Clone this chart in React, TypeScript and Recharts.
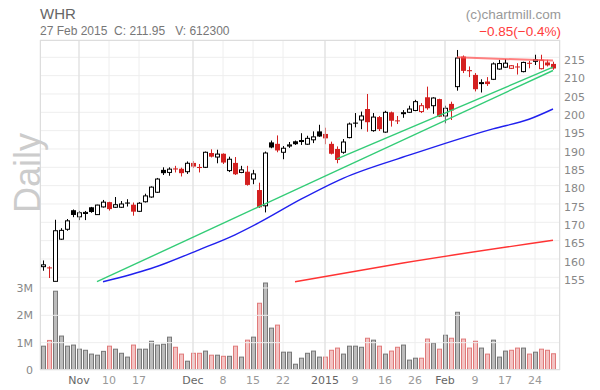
import React from 'react';
import { ComposedChart, Bar, Line, XAxis, YAxis, CartesianGrid, ReferenceLine } from 'recharts';

const dates = [
  '2014-10-24', '2014-10-27', '2014-10-28', '2014-10-29', '2014-10-30', '2014-10-31',
  '2014-11-03', '2014-11-04', '2014-11-05', '2014-11-06', '2014-11-07',
  '2014-11-10', '2014-11-11', '2014-11-12', '2014-11-13', '2014-11-14',
  '2014-11-17', '2014-11-18', '2014-11-19', '2014-11-20', '2014-11-21',
  '2014-11-24', '2014-11-25', '2014-11-26', '2014-11-28',
  '2014-12-01', '2014-12-02', '2014-12-03', '2014-12-04', '2014-12-05',
  '2014-12-08', '2014-12-09', '2014-12-10', '2014-12-11', '2014-12-12',
  '2014-12-15', '2014-12-16', '2014-12-17', '2014-12-18', '2014-12-19',
  '2014-12-22', '2014-12-23', '2014-12-24', '2014-12-26',
  '2014-12-29', '2014-12-30', '2014-12-31',
  '2015-01-02', '2015-01-05', '2015-01-06', '2015-01-07', '2015-01-08', '2015-01-09',
  '2015-01-12', '2015-01-13', '2015-01-14', '2015-01-15', '2015-01-16',
  '2015-01-20', '2015-01-21', '2015-01-22', '2015-01-23',
  '2015-01-26', '2015-01-27', '2015-01-28', '2015-01-29', '2015-01-30',
  '2015-02-02', '2015-02-03', '2015-02-04', '2015-02-05', '2015-02-06',
  '2015-02-09', '2015-02-10', '2015-02-11', '2015-02-12', '2015-02-13',
  '2015-02-17', '2015-02-18', '2015-02-19', '2015-02-20',
  '2015-02-23', '2015-02-24', '2015-02-25', '2015-02-26', '2015-02-27',
];

const opens = [
  157.9, 157.7, 153.9, 165.4, 168.1, 173.3, 171.5, 172.4, 174.1, 172.1,
  174.2, 175.5, 174.1, 174.1, 175.4, 174.8, 173.0, 175.6, 176.9, 178.2,
  184.3, 183.6, 184.7, 184.6, 183.8, 186.2, 185.1, 185.0, 188.9, 187.8,
  188.7, 184.1, 186.2, 183.6, 183.8, 181.8, 178.8, 174.5, 191.8, 191.4,
  189.1, 190.8, 192.1, 192.1, 191.3, 192.5, 194.8, 194.1, 191.4, 190.0,
  189.1, 193.1, 197.2, 197.9, 200.9, 195.0, 198.7, 194.6, 200.0, 197.8,
  199.7, 200.0, 200.5, 200.2, 204.1, 201.8, 203.6, 199.0, 202.3, 207.0,
  215.2, 211.5, 210.2, 207.9, 208.4, 209.0, 211.8, 212.3, 212.0, 212.5,
  211.1, 213.5, 213.9, 211.9, 213.6, 213.2,
];
const highs = [
  159.6, 158.0, 170.7, 168.4, 170.9, 173.5, 173.1, 173.1, 174.2, 174.8,
  176.1, 175.6, 176.9, 175.8, 176.3, 175.4, 175.5, 177.8, 179.8, 182.1,
  185.0, 185.0, 185.4, 184.9, 186.6, 186.7, 185.9, 189.3, 189.9, 189.8,
  188.8, 187.9, 187.8, 185.4, 185.4, 184.3, 180.8, 189.3, 192.3, 193.7,
  190.8, 191.9, 192.3, 194.3, 193.6, 194.8, 196.6, 195.8, 192.0, 190.7,
  192.7, 197.2, 199.8, 200.2, 205.0, 199.8, 199.0, 200.4, 200.2, 199.0,
  200.6, 201.8, 203.4, 202.5, 207.0, 204.1, 203.7, 201.8, 202.9, 217.0,
  215.5, 212.5, 210.7, 209.0, 209.6, 213.6, 214.3, 214.5, 212.9, 213.4,
  213.8, 214.0, 215.7, 215.7, 214.3, 213.8,
];
const lows = [
  156.8, 154.8, 153.9, 165.2, 167.7, 171.4, 170.6, 170.6, 172.6, 172.0,
  174.0, 173.2, 173.9, 173.9, 174.3, 171.8, 172.8, 175.4, 176.7, 178.0,
  182.9, 182.7, 183.6, 182.5, 183.2, 184.8, 183.6, 184.8, 187.7, 186.1,
  185.9, 183.7, 182.9, 183.4, 180.0, 180.4, 173.9, 172.7, 190.2, 189.1,
  187.2, 190.3, 191.1, 191.1, 191.1, 191.6, 193.3, 191.3, 188.5, 186.1,
  188.7, 192.9, 195.9, 195.4, 194.7, 194.7, 194.9, 194.4, 196.1, 196.8,
  198.5, 199.8, 200.3, 199.8, 200.7, 199.6, 198.7, 197.0, 197.9, 205.9,
  210.7, 209.6, 205.7, 205.4, 207.2, 208.8, 211.6, 212.1, 211.8, 210.3,
  210.9, 212.0, 212.9, 211.7, 212.5, 211.6,
];
const closes = [
  158.4, 157.5, 167.7, 167.8, 170.4, 172.0, 172.6, 172.7, 172.8, 174.7,
  175.5, 173.6, 174.8, 175.0, 175.1, 172.9, 175.2, 177.2, 179.6, 181.8,
  183.4, 184.5, 184.4, 183.4, 186.1, 185.2, 184.8, 189.1, 187.9, 188.6,
  186.3, 187.2, 183.1, 184.3, 180.2, 183.2, 174.1, 188.9, 190.4, 189.6,
  190.2, 191.1, 191.3, 192.3, 192.9, 193.3, 193.4, 192.9, 188.7, 187.0,
  191.9, 196.8, 196.9, 199.0, 197.3, 198.7, 195.4, 200.0, 197.7, 197.6,
  199.9, 200.9, 202.9, 201.8, 201.1, 203.9, 198.8, 201.1, 200.5, 214.8,
  211.3, 211.2, 206.3, 208.1, 207.7, 213.2, 213.3, 213.4, 212.7, 212.3,
  213.6, 213.4, 214.3, 214.2, 212.8, 211.95,
];
const volumesM = [
  0.89, 1.10, 2.90, 1.26, 0.89, 0.93, 0.78, 0.74, 0.60, 0.56,
  0.70, 0.89, 0.78, 0.63, 0.49, 0.93, 0.78, 0.78, 1.07, 0.93,
  0.96, 1.22, 0.85, 0.60, 0.34, 0.63, 0.63, 0.71, 0.56, 0.56,
  0.52, 0.52, 0.89, 0.49, 1.11, 1.22, 2.46, 3.20, 1.55, 1.66,
  0.67, 0.67, 0.23, 0.45, 0.63, 0.71, 0.49, 0.49, 0.74, 0.82,
  0.60, 0.89, 0.89, 0.85, 1.18, 1.11, 0.89, 0.60, 0.71, 0.85,
  0.93, 0.38, 0.45, 0.45, 1.15, 1.00, 0.78, 1.29, 1.18, 2.13,
  1.15, 0.82, 1.07, 0.82, 0.60, 1.11, 0.49, 0.71, 0.74, 0.82,
  0.82, 0.60, 0.67, 0.78, 0.74, 0.6123,
];

// sparse line readings: [day index] -> price
const trendLowIdx = [9, 85];
const trendLowVal = [153.8, 211.4];
const trendHighIdx = [49, 85];
const trendHighVal = [187.3, 212.3];
const resistIdx = [69, 85];
const resistVal = [215.0, 214.1];
const ma50Idx = [10, 18, 26, 32, 36, 43, 50, 61, 75, 81, 85];
const ma50Val = [153.8, 157.4, 162.5, 166.6, 169.9, 176.3, 182.0, 188.3, 195.5, 198.1, 200.9];
const ma200Idx = [42, 60, 85];
const ma200Val = [153.8, 158.9, 165.1];

const tickDates = [
  '2014-11-03', '2014-11-10', '2014-11-17', '2014-12-01', '2014-12-08', '2014-12-15', '2014-12-22',
  '2015-01-02', '2015-01-09', '2015-01-16', '2015-01-26', '2015-02-02', '2015-02-09', '2015-02-17', '2015-02-24',
];
const tickLabels = ['Nov', '10', '17', 'Dec', '8', '15', '22', '2015', '9', '16', '26', 'Feb', '9', '17', '24'];
const monthLabels = ['Nov', 'Dec', '2015', 'Feb'];
const priceTicks = [155, 160, 165, 170, 175, 180, 185, 190, 195, 200, 205, 210, 215];
const volTicks = [0, 1e6, 2e6, 3e6];
const volGrid = [1e6, 2e6, 3e6];

const RED = '#d42020';
const FONT = '"DejaVu Sans", Verdana, sans-serif';
const HFONT = '"Liberation Sans", Arial, sans-serif';

const pick = (idx: number[], vals: number[], i: number) => {
  const k = idx.indexOf(i);
  return k >= 0 ? vals[k] : null;
};

const data = dates.map((date, i) => ({
  date,
  open: opens[i],
  high: highs[i],
  low: lows[i],
  close: closes[i],
  volume: volumesM[i] * 1e6,
  down: i > 0 && closes[i] < closes[i - 1],
  trendLow: pick(trendLowIdx, trendLowVal, i),
  trendHigh: pick(trendHighIdx, trendHighVal, i),
  resist: pick(resistIdx, resistVal, i),
  ma50: pick(ma50Idx, ma50Val, i),
  ma200: pick(ma200Idx, ma200Val, i),
}));

const Candle = (props: any) => {
  const { x, y, width, height, payload } = props;
  if (x == null || y == null) return null;
  const { open, close, high, low, down } = payload;
  const top = Math.min(y, y + height);
  const h = Math.abs(height);
  const span = high - low || 1;
  const py = (v: number) => top + ((high - v) / span) * h;
  const cx = Math.floor(x + width / 2) + 0.5;
  const color = down ? RED : '#000';
  const yo = py(open);
  const yc = py(close);
  const bTop = Math.min(yo, yc);
  const bH = Math.max(Math.abs(yo - yc), 1);
  const hollow = close > open;
  return (
    <g>
      <line x1={cx} x2={cx} y1={top} y2={top + h} stroke={color} strokeWidth={1} />
      {hollow ? (
        <rect x={cx - 2} y={bTop} width={4} height={Math.max(bH, 1)} fill="#fff" stroke={color} strokeWidth={1} />
      ) : (
        <rect x={cx - 2.5} y={bTop} width={5} height={bH} fill={color} />
      )}
    </g>
  );
};

const VolBar = (props: any) => {
  const { x, y, width, height, payload } = props;
  if (x == null || y == null || height <= 0) return null;
  const down = payload.down;
  return (
    <rect
      x={x + 0.5}
      y={y + 0.5}
      width={Math.max(width - 1, 1)}
      height={Math.max(height - 0.5, 0)}
      fill={down ? '#f3c3c3' : '#bcbcbc'}
      stroke={down ? '#e07a7a' : '#777'}
      strokeWidth={1}
    />
  );
};

const DateTick = (props: any) => {
  const { x, y, payload } = props;
  const k = tickDates.indexOf(payload.value);
  if (k < 0) return null;
  const label = tickLabels[k];
  const major = monthLabels.includes(label);
  return (
    <text x={x} y={y} dy={11} textAnchor="middle" fontSize={11} fontFamily={FONT} fill={major ? '#666' : '#999'}>
      {label}
    </text>
  );
};

const PriceTick = (props: any) => {
  const { x, y, payload } = props;
  return (
    <text x={x} y={y + 2.7} dy="0.355em" textAnchor="start" fontSize={11} fontFamily={FONT} fill="#888">
      {payload.value}
    </text>
  );
};

const VolTick = (props: any) => {
  const { x, y, payload } = props;
  const v = payload.value;
  return (
    <text x={x} y={y} dy="0.355em" textAnchor="end" fontSize={11} fontFamily={FONT} fill="#888">
      {v === 0 ? '0' : `${v / 1e6}M`}
    </text>
  );
};

export default function App() {
  return (
    <div style={{ position: 'absolute', left: 0, top: 0, width: 600, height: 390, background: '#fff' }}>
      <ComposedChart width={600} height={390} data={data} margin={{ top: 40, right: 0, bottom: 0, left: 0 }}>
        <CartesianGrid xAxisId="a" yAxisId="p" stroke="#eeeeee" />
        {volGrid.map((v) => (
          <ReferenceLine key={v} y={v} yAxisId="v" xAxisId="a" stroke="#eeeeee" />
        ))}
        {tickDates
          .filter((_, k) => monthLabels.includes(tickLabels[k]))
          .map((d) => (
            <ReferenceLine key={d} x={d} xAxisId="a" yAxisId="p" stroke="#dddddd" />
          ))}
        <XAxis
          xAxisId="a"
          dataKey="date"
          ticks={tickDates}
          interval={0}
          tick={<DateTick />}
          tickLine={false}
          axisLine={false}
          tickSize={0}
          tickMargin={3}
          height={20}
          padding={{ left: 0, right: 4 }}
        />
        <XAxis xAxisId="b" dataKey="date" hide padding={{ left: 0, right: 4 }} />
        <YAxis
          yAxisId="p"
          orientation="right"
          width={40}
          domain={[129.72, 219.72]}
          ticks={priceTicks}
          interval={0}
          allowDataOverflow
          tick={<PriceTick />}
          tickLine={false}
          axisLine={false}
          tickSize={0}
          tickMargin={4}
        />
        <YAxis
          yAxisId="v"
          orientation="left"
          width={40}
          domain={[0, 12.07e6]}
          ticks={volTicks}
          interval={0}
          allowDataOverflow
          tick={<VolTick />}
          tickLine={false}
          axisLine={false}
          tickSize={0}
          tickMargin={7}
        />
        <Bar xAxisId="b" yAxisId="v" dataKey="volume" barSize={5} shape={<VolBar />} isAnimationActive={false} />
        <Line xAxisId="a" yAxisId="p" type="monotone" dataKey="ma200" stroke="#ff3333" strokeWidth={1.4} dot={false} connectNulls isAnimationActive={false} />
        <Line xAxisId="a" yAxisId="p" type="monotone" dataKey="ma50" stroke="#2020ee" strokeWidth={1.4} dot={false} connectNulls isAnimationActive={false} />
        <Line xAxisId="a" yAxisId="p" dataKey="trendLow" stroke="#33cc77" strokeWidth={1.4} dot={false} connectNulls isAnimationActive={false} />
        <Line xAxisId="a" yAxisId="p" dataKey="trendHigh" stroke="#33cc77" strokeWidth={1.4} dot={false} connectNulls isAnimationActive={false} />
        <Bar
          xAxisId="a"
          yAxisId="p"
          dataKey={(d: any) => [d.low, d.high]}
          barSize={5}
          shape={<Candle />}
          isAnimationActive={false}
        />
        <Line xAxisId="a" yAxisId="p" dataKey="resist" stroke="#ff5555" strokeOpacity={0.75} strokeWidth={2} dot={false} connectNulls isAnimationActive={false} />
      </ComposedChart>
      <svg width={600} height={390} style={{ position: 'absolute', left: 0, top: 0, pointerEvents: 'none' }}>
        <rect x={40.5} y={40.5} width={519} height={329} fill="none" stroke="#dddddd" strokeWidth={1} />
        <text
          transform="translate(40,173) rotate(-90)"
          textAnchor="middle"
          fontSize={36}
          fontFamily={HFONT}
          fill="#cccccc"
        >
          Daily
        </text>
        <text x={40} y={19} fontSize={15} fontFamily={HFONT} fill="#666">WHR</text>
        <text x={40} y={35} fontSize={12} fontFamily={HFONT} fill="#777" style={{ whiteSpace: 'pre' }}>
          {'27 Feb 2015  C: 211.95   V: 612300'}
        </text>
        <text x={561} y={19} textAnchor="end" fontSize={13.5} fontFamily={HFONT} fill="#999">(c)chartmill.com</text>
        <text x={561} y={36} textAnchor="end" fontSize={13.5} fontFamily={HFONT} fill="#ff3b3b">−0.85(−0.4%)</text>
      </svg>
    </div>
  );
}
